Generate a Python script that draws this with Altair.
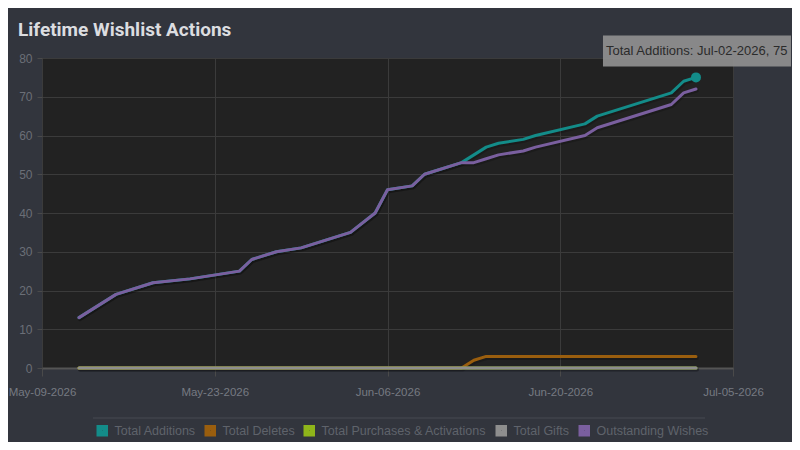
import altair as alt
import pandas as pd

# ---------------- data ----------------
SERIES = [
    "Total Additions",
    "Total Deletes",
    "Total Purchases & Activations",
    "Total Gifts",
    "Outstanding Wishes",
]
COLORS = ["#138c89", "#9a5e0e", "#8fb51a", "#8e8e8e", "#7a5f9f"]

DATES = [
    "2026-05-13", "2026-05-16", "2026-05-19", "2026-05-22", "2026-05-26",
    "2026-05-27", "2026-05-29", "2026-05-31", "2026-06-04", "2026-06-06",
    "2026-06-07", "2026-06-09", "2026-06-10", "2026-06-13", "2026-06-14",
    "2026-06-15", "2026-06-16", "2026-06-18", "2026-06-19", "2026-06-23",
    "2026-06-24", "2026-06-30", "2026-07-01", "2026-07-02",
]
ADDITIONS = [13, 19, 22, 23, 25, 28, 30, 31, 35, 40, 46, 47, 50, 53,
             55, 57, 58, 59, 60, 63, 65, 71, 74, 75]
DELETES = [0, 0, 0, 0, 0, 0, 0, 0, 0, 0, 0, 0, 0, 0,
           2, 3, 3, 3, 3, 3, 3, 3, 3, 3]
PURCHASES = [0, 0, 0, 0, 0, 0, 0, 0, 0, 0, 0, 0, 0, 0,
             0, 0, 0, 0, 0, 0, 0, 0, 0, 0]
GIFTS = [0, 0, 0, 0, 0, 0, 0, 0, 0, 0, 0, 0, 0, 0,
         0, 0, 0, 0, 0, 0, 0, 0, 0, 0]
OUTSTANDING = [13, 19, 22, 23, 25, 28, 30, 31, 35, 40, 46, 47, 50, 53,
               53, 54, 55, 56, 57, 60, 62, 68, 71, 72]

AXIS_START = "2026-05-10"   # date at the left edge of the axis
AXIS_DAYS = 56
TICK_DAYS = [0, 14, 28, 42, 56]
TICK_LABELS = ["May-09-2026", "May-23-2026", "Jun-06-2026", "Jun-20-2026", "Jul-05-2026"]
Y_TICKS = [0, 10, 20, 30, 40, 50, 60, 70, 80]

TITLE = "Lifetime Wishlist Actions"
TIP_SERIES = "Total Additions"

# ---------------- build tables ----------------
start = pd.Timestamp(AXIS_START)
values_by_series = dict(zip(SERIES, [ADDITIONS, DELETES, PURCHASES, GIFTS, OUTSTANDING]))
rows = []
for s in SERIES:
    for d, v in zip(DATES, values_by_series[s]):
        ts = pd.Timestamp(d)
        rows.append({
            "series": s,
            "day": (ts - start).days,
            "value": v,
            "label": f"{s}: {ts.strftime('%b-%d-%Y')}, {v}",
        })
df = pd.DataFrame(rows)
tip_df = df[df["series"] == TIP_SERIES].tail(1)

label_expr = " : ".join(
    f"datum.value == {d} ? '{t}'" for d, t in zip(TICK_DAYS, TICK_LABELS)
) + " : ''"

FONT = "'Liberation Sans', Arial, sans-serif"

x_enc = alt.X(
    "day:Q",
    scale=alt.Scale(domain=[0, AXIS_DAYS], nice=False, zero=False),
    axis=alt.Axis(values=TICK_DAYS, labelExpr=label_expr, title=None,
                  tickSize=8, labelPadding=10, domain=True,
                  domainColor="#555555", domainWidth=2,
                  labelFontSize=11.5, labelColor="#767a82",
                  labelOverlap=False, labelBound=False, labelFlush=False),
)
y_enc = alt.Y(
    "value:Q",
    scale=alt.Scale(domain=[0, 80], nice=False),
    axis=alt.Axis(values=Y_TICKS, title=None, tickSize=5, labelPadding=5,
                  domain=False, labelFontSize=12),
)
color_enc = alt.Color(
    "series:N",
    scale=alt.Scale(domain=SERIES, range=COLORS),
    legend=alt.Legend(
        title=None, orient="none", direction="horizontal",
        legendX=54, legendY=366,
        symbolType="square", symbolSize=36, symbolStrokeWidth=5.5,
        labelColor="#5f636b", labelFont=FONT, labelFontSize=12.5,
        labelLimit=400, columnPadding=0, labelOffset=6,
    ),
)

base = alt.Chart(df)
line_style = dict(strokeWidth=3, strokeJoin="round", strokeCap="round")
shadow = base.mark_line(
    strokeWidth=4, strokeJoin="round", strokeCap="round",
    color="#000000", opacity=0.18, xOffset=1, yOffset=1.5,
).encode(x=x_enc, y=y_enc, detail="series:N")
lines_under = base.transform_filter(
    alt.datum.series != "Outstanding Wishes"
).mark_line(**line_style).encode(x=x_enc, y=y_enc, color=color_enc)
lines_over = base.transform_filter(
    alt.datum.series == "Outstanding Wishes"
).mark_line(**line_style).encode(x=x_enc, y=y_enc, color=color_enc)

tip = alt.Chart(tip_df)
tip_point = tip.mark_circle(size=100, color=COLORS[0], opacity=1).encode(
    x=x_enc, y=y_enc
)
tip_box = tip.mark_rect(
    fill="#8f8f8f", opacity=0.93,
    xOffset=-93, x2Offset=95, yOffset=-42, y2Offset=-11,
).encode(x=x_enc, x2=alt.X2("day"), y=y_enc, y2=alt.Y2("value"))
tip_text = tip.mark_text(
    align="left", baseline="middle", dx=-90, dy=-26,
    fontSize=13, font=FONT, color="#2b2b2b",
).encode(x=x_enc, y=y_enc, text="label:N")

separator = alt.Chart(pd.DataFrame({"k": [0]})).mark_rule(
    color="#474a52", strokeWidth=1
).encode(x=alt.value(51), x2=alt.value(663), y=alt.value(360))

chart = alt.layer(
    shadow, lines_under, lines_over, tip_point, tip_box, tip_text, separator
).properties(
    width=691,
    height=310,
    title=alt.Title(TITLE, anchor="start", frame="group", dx=-24, dy=20, offset=0,
                    baseline="alphabetic", fontSize=19,
                    font="Roboto", fontWeight="bold", color="#dcdde0"),
    background="#32353d",
    padding={"left": 34, "top": 50, "right": 59, "bottom": 74},
    autosize=alt.AutoSizeParams(type="none"),
).configure_view(
    fill="#222222", stroke="#474747", strokeWidth=1
).configure_axis(
    gridColor="#3b3b3b", gridWidth=1,
    labelColor="#6b6f77", labelFont=FONT,
    tickColor="#4a4a4a",
)

chart.save("out.html", embed_options={"renderer": "svg", "actions": False})
